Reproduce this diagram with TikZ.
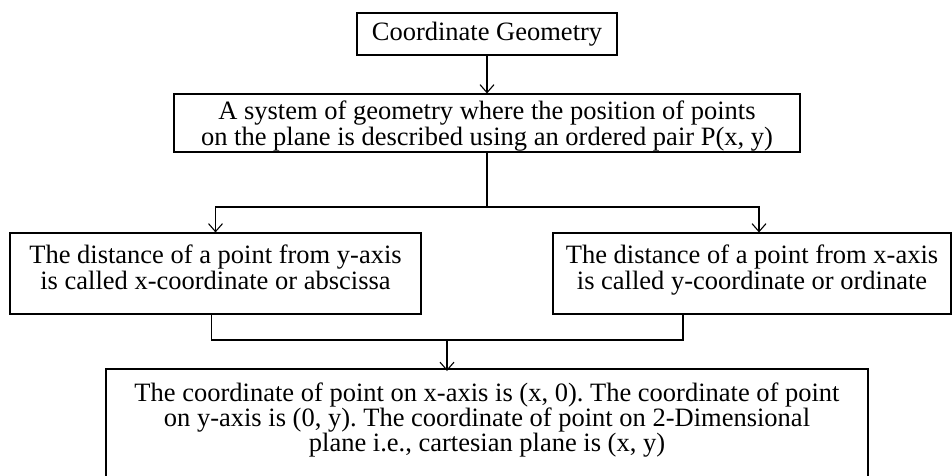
\documentclass[tikz,border=0pt]{standalone}
\usepackage{fontspec}
\setmainfont{Liberation Serif}
\usetikzlibrary{arrows.meta}
\frenchspacing

\begin{document}
\begin{tikzpicture}[x=1pt, y=-1pt,
  box/.style={draw, line width=1.1pt, align=center, inner sep=0pt,
    font=\fontsize{26.5}{23}\selectfont},
  link/.style={line width=1.1pt},
  arr/.style={link, -{Straight Barb[length=8pt, width=14pt]}}]
  \useasboundingbox (0,0) rectangle (952,475);
  \node[box, minimum width=260pt, minimum height=42pt] (title) at (487,34) {Coordinate Geometry};
  \node[box, minimum width=626pt, minimum height=58pt, text height=51pt, text depth=7pt,
    font=\fontsize{26.5}{22}\selectfont] (system) at (487,123)
    {A system of geometry where the position of points\\on the plane is described using an ordered pair P(x, y)};
  \node[box, minimum width=411pt, minimum height=81pt, text height=56pt, text depth=25pt] (leftbox) at (215.5,273.5)
    {The distance of a point from y-axis\\is called x-coordinate or abscissa};
  \node[box, minimum width=398pt, minimum height=81pt, text height=56pt, text depth=25pt] (rightbox) at (752,273.5)
    {The distance of a point from x-axis\\is called y-coordinate or ordinate};
  \node[box, draw=none, font=\fontsize{26.5}{24}\selectfont, minimum width=760pt] (result) at (487,420)
    {The coordinate of point on x-axis is (x, 0). The coordinate of point\\on y-axis is (0, y). The coordinate of point on 2-Dimensional\\plane i.e., cartesian plane is (x, y)};
  \coordinate (split) at (487,207);
  \coordinate (join) at (447,340);
  \draw[line width=2pt] ([yshift=-40pt]result.south west) |- ([yshift=13pt]result.north east) -- ([yshift=-40pt]result.south east);
  \draw[arr] (title) -- (system);
  \draw[link] (system) -- (split);
  \draw[arr] (split) -| (leftbox);
  \draw[arr] (split) -| ([xshift=7pt]rightbox.north);
  \draw[link] ([xshift=-4pt]leftbox.south) |- (join) -| ([xshift=-69pt]rightbox.south);
  \draw[arr] (join) -- (join |- 0,371);
\end{tikzpicture}
\end{document}
